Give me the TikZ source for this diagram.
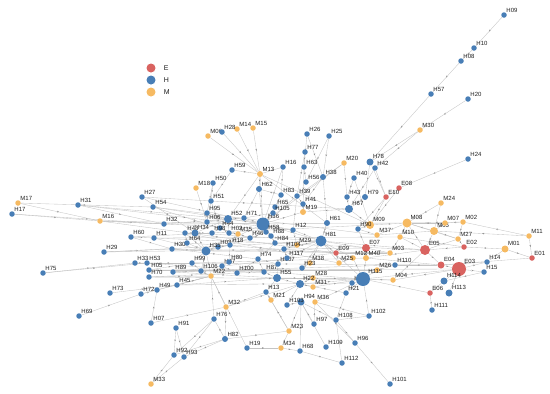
\documentclass[tikz,border=0pt]{standalone}
\usepackage{fontspec}
\setmainfont{Liberation Sans}
\usetikzlibrary{arrows.meta,decorations.markings,backgrounds,positioning}
\definecolor{ecol}{RGB}{217,99,96}
\definecolor{hcol}{RGB}{72,126,182}
\definecolor{mcol}{RGB}{246,186,98}
\definecolor{linkcol}{RGB}{196,196,196}
\definecolor{txtcol}{RGB}{30,30,30}

\begin{document}
\begin{tikzpicture}[x=1pt, y=-1pt,
    main/.style = {circle, inner sep=0pt, minimum size=5.5pt},
    enode/.style = {main, fill=ecol},
    hnode/.style = {main, fill=hcol},
    mnode/.style = {main, fill=mcol},
    lbl/.style = {font=\fontsize{6}{6.5}\selectfont, text=txtcol, inner sep=0.2pt},
    legtxt/.style = {font=\fontsize{7}{8}\selectfont, text=txtcol, inner sep=0pt},
    link/.style = {draw=linkcol, line width=0.35pt, postaction={decorate},
        decoration={markings, mark=at position 0.5 with {\arrow[linkcol!75!black]{Stealth[length=2pt,width=1.6pt]}}}}]
\useasboundingbox (0,0) rectangle (550,394);

% legend
\node[enode, minimum size=9pt] (legE) at (151,68) {};
\node[hnode, minimum size=9pt] (legH) at (151,80) {};
\node[mnode, minimum size=9pt] (legM) at (151,92) {};
\node[legtxt, right=8pt of legE] (legEt) {E};
\node[legtxt, right=8pt of legH] (legHt) {H};
\node[legtxt, right=8pt of legM] (legMt) {M};

% E nodes
\foreach \n/\x/\y/\s in {E01/532/258/5.5, E02/464/247/5.5, E03/459/269/14, E04/441/265/7,
    E05/425/250/10, E06/430/293/5.5, E07/366/248/8, E08/399/188/5.5, E09/336/253/5.5, E10/386/197/5.5}
    \node[enode, minimum size=\s pt, label={[lbl]above right:\n}] (\n) at (\x,\y) {};

% M nodes
\foreach \n/\x/\y/\s in {M01/505/249/7, M02/463/222/5.5, M03/390/253/5.5, M04/393/280/5.5,
    M05/434/231/8, M06/208/136/5.5, M07/445/223/5.5, M08/407/223/9, M09/370/225/8,
    M10/400/237/5.5, M11/529/236/5.5, M12/353/258/5.5, M13/260/174/6, M14/237/129/5.5,
    M15/253/128/5.5, M16/100/221/5.5, M17/18/203/5.5, M18/196/188/5.5, M19/303/212/6,
    M20/344/163/5.5, M21/271/300/5.5, M22/211/276/5.5, M23/289/331/5.5, M24/441/203/5.5,
    M25/339/263/5.5, M26/377/270/5.5, M27/458/239/5.5, M28/313/278/5.5, M29/297/245/5.5,
    M30/420/130/5.5, M31/313/287/5.5, M32/226/307/5.5, M33/151/384/5.5, M34/281/348/5.5,
    M35/238/234/5.5, M36/315/302/5.5, M37/377/235/5.5, M38/310/263/5.5, M40/366/258/6}
    \node[mnode, minimum size=\s pt, label={[lbl]above right:\n}] (\n) at (\x,\y) {};

% H nodes
\foreach \n/\x/\y/\s in {H02/229/233/5.5, H03/218/247/5.5, H05/149/270/5.5, H06/207/222/5.5,
    H07/151/323/5.5, H08/461/61/5.5, H09/504/15/5.5, H10/474/48/5.5, H11/154/238/5.5,
    H12/293/230/5.5, H13/266/292/5.5, H14/487/262/5.5, H15/484/272/5.5, H16/283/167/5.5,
    H17/12/214/5.5, H18/230/245/5.5, H19/247/348/5.5, H20/468/99/5.5, H21/346/293/5.5,
    H22/300/284/8, H23/302/268/5.5, H24/468/159/5.5, H25/329/136/5.5, H26/307/134/5.5,
    H27/142/197/5.5, H28/222/132/5.5, H29/104/252/5.5, H30/172/249/5.5, H31/78/205/5.5,
    H32/164/224/5.5, H33/135/263/5.5, H34/195/233/7, H35/206/251/9, H36/263/224/13,
    H38/323/177/6, H39/297/196/5.5, H40/354/178/5.5, H41/303/204/5.5, H42/375/168/5.5,
    H43/347/197/5.5, H44/220/228/5.5, H45/177/285/5.5, H46/250/238/5.5, H47/222/266/5.5,
    H48/185/233/5.5, H49/157/290/5.5, H50/213/183/5.5, H51/211/201/5.5, H52/228/219/8,
    H53/147/263/5.5, H54/153/207/5.5, H55/277/278/8, H56/306/182/5.5, H57/431/94/5.5,
    H58/266/232/5.5, H59/232/170/5.5, H60/131/237/5.5, H61/327/223/6, H62/259/189/6,
    H63/304/167/5.5, H64/187/243/5.5, H65/275/207/5.5, H67/349/209/8, H68/300/351/5.5,
    H69/79/316/5.5, H70/149/277/5.5, H71/244/218/5.5, H72/141/294/5.5, H73/110/293/5.5,
    H74/258/259/5.5, H75/43/273/5.5, H76/214/319/5.5, H77/305/152/5.5, H78/370/162/7,
    H79/365/197/6, H80/229/262/5.5, H81/321/241/11, H82/225/339/6, H83/281/195/5.5,
    H84/275/243/5.5, H85/352/283/5.5, H87/264/272/5.5, H88/271/236/5.5, H89/173/272/5.5,
    H90/358/229/5.5, H91/176/328/5.5, H92/174/355/5.5, H93/184/357/5.5, H94/301/302/7,
    H95/207/213/5.5, H96/355/343/5.5, H97/314/324/5.5, H98/212/233/5.5, H99/192/263/5.5,
    H100/237/273/5.5, H101/390/384/5.5, H102/369/316/5.5, H103/287/305/5.5, H104/284/249/5.5,
    H105/273/213/5.5, H106/201/271/5.5, H107/278/264/5.5, H108/336/320/5.5, H109/326/347/5.5,
    H110/395/265/5.5, H111/432/310/5.5, H112/342/363/5.5, H113/449/293/7, H114/444/281/7,
    H115/363/279/14, H117/287/258/5.5}
    \node[hnode, minimum size=\s pt, label={[lbl]above right:\n}] (\n) at (\x,\y) {};

% links
\begin{scope}[on background layer]
\foreach \a/\b in {H09/H10, H10/H08, H08/H57, H57/H78, H20/M30, M30/H42, M30/H78,
    H24/E08, E08/E10, E08/M09,
    M06/M13, H28/M13, M14/M13, M15/M13, H16/M13, H59/M13, M13/H62, M13/H36, M13/H52,
    M13/M09, M13/H61, H59/H51, H50/H51, M18/H06, H50/H95,
    H26/H63, H26/H38, H25/H38, H25/H56, H77/H63, H77/H39, H63/H56, H63/M19, H38/H41,
    H38/H61, M20/H43, M20/H39, M20/H36, H78/E10, H42/E10, H78/H79, H42/H67, H40/H43,
    H40/M09, H43/H67, H79/H67, E10/M09, E10/H90, H16/H36, H16/H83,
    M24/M08, M24/M05, M07/M05, M02/M27, M02/M07, M11/M02, M11/E01, M01/E01, M01/E02,
    M01/H14, M27/E05, M27/E02, E02/E05, E05/M08, E05/M10, E05/E04, E04/E03, E03/H14,
    E03/H15, E03/H114, E06/H114, H111/E06, H113/E03, E06/H115, E04/H110, M05/M08,
    M05/E05, M05/M27, M08/M09, M08/M10, M08/M37, M10/M03, M03/E07, M03/E09, M04/H115,
    M04/E05, M26/H115, H110/M26, E07/M40, E07/H81, M40/H115, M12/H115, M25/M12,
    E09/H81, E09/M25, M37/H90, M09/H90, M09/H67, H90/E07, H61/H81, H12/H81, M29/H81,
    H67/M19, E01/E04, M11/M05,
    M17/M16, H17/M16, M16/H32, M16/H36, M16/H12, H31/H32, H31/H52, H27/H36, H27/H34,
    H54/H36, H54/M35, H32/H52, H32/M08, H60/H11, H60/H30, H11/H35, H11/E05, H29/H30,
    H29/H81, H30/H35, H30/H74, H33/H53, H53/H99, H05/H99, H05/H87, H89/H106, H89/H55,
    H75/H33, H75/H53, H70/M22, H70/H100, H73/H45, H69/H72, H72/H49, H72/M22, H49/M22,
    H45/M22, H45/H55, H17/H32, M17/H54,
    H07/M32, H07/H49, M32/M22, M32/H82, M32/H22, H76/M22, H76/H93, H76/H92, H91/H92,
    H91/H93, M33/H92, M33/H93, H82/H93, H82/H92, H82/M23, H82/H76, H19/M34, H19/M22,
    M34/M23, M34/H68, M23/H94, M23/M21, M23/H13, H68/H112, H68/H94, H112/H108,
    H109/H94, H97/H94, H97/M36, H108/H21, H108/H102, H108/H94, H96/H101, H96/M36,
    H96/H108, H102/H115, H102/M36, H21/H115, H21/H22, H103/H94, H103/H22, M36/H115,
    M21/H13, M21/H22, H13/H55, M32/H13,
    H36/H52, H36/H62, H36/H65, H36/H105, H36/H71, H36/H46, H36/H58, H36/H88, H36/H81,
    H36/H12, H36/M19, H36/H39, H36/H35, H36/H84, H52/H44, H52/H06, H52/H95, H52/H34,
    H52/H02, H52/H71, H35/H34, H35/H64, H35/H03, H35/H18, H35/H99, H35/H106, H35/M22,
    H35/H48, H34/H48, H34/H98, H34/H81, H18/H46, H18/M35, M35/H46, M35/H02, H46/H58,
    H74/H87, H74/H84, H74/H107, H107/H55, H87/H55, H55/H22, H55/H115, H55/M28,
    H22/M31, H22/M28, H22/H115, H23/M38, H23/H81, M38/H81, M28/H115, M31/H115,
    H81/H115, H81/H84, H81/H104, H81/M25, H81/M12, H81/H61, H81/H117, H117/H107,
    H117/H104, H84/H88, H104/M29, H12/M29, H12/H39, H41/M19, H41/H39, H83/H65,
    H83/H62, H65/H105, H105/H71, H62/H71, H80/H47, H47/H100, H80/H18, H100/H87,
    H100/H74, H99/H106, H106/M22, H03/H18, H02/H44, H44/H98, H98/H48, H64/H48,
    H95/H06, H06/H51, H51/H44,
    H11/M10, H30/M03, H29/E07, H33/E04, H53/H115, H05/E03, H89/H110, H60/M09,
    H54/M37, H27/H67, H31/H12, H89/E09, M16/E09, H45/H85, H70/M04, H05/M26,
    H99/M40, H35/M03, H64/E09, H48/M25,
    E05/H81, E05/M40, E04/M40, E03/H115, E03/M04, E02/M10, M27/M08, M05/M37,
    M07/M08, M02/M08, H14/E04, H15/H114}
    \draw[link] (\a) -- (\b);
\end{scope}
\end{tikzpicture}
\end{document}
